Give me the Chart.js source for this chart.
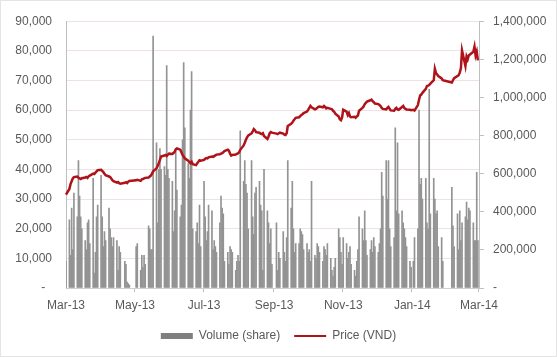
<!DOCTYPE html>
<html><head><meta charset="utf-8">
<script src="https://cdn.jsdelivr.net/npm/chart.js@4"></script>
<style>html,body{margin:0;padding:0;background:#fff}#wrap{width:557px;height:357px}</style>
</head><body><div id="wrap"><canvas id="c" width="557" height="357"></canvas></div>
<script>
// ---- data ----
const monthKeys = ['2013-03','2013-04','2013-05','2013-06','2013-07','2013-08','2013-09','2013-10','2013-11','2013-12','2014-01','2014-02'];
const holidays = ['2013-04-19','2013-04-29','2013-04-30','2013-05-01','2013-09-02','2014-01-01','2014-01-29','2014-01-30','2014-01-31','2014-02-03','2014-02-04'];
const tickMonths = ['Mar-13','May-13','Jul-13','Sep-13','Nov-13','Jan-14','Mar-14'];
const monthNames = ['Jan','Feb','Mar','Apr','May','Jun','Jul','Aug','Sep','Oct','Nov','Dec'];

// Volume (share), one value per trading day
const volMar13 = [9000,23000,11000,27000,13000,32000,24000,43000,31000,24000,20000,16000,13000,22000,23000,15000,37000,5000,12000,24000,28000];
const volApr13 = [38000,24000,14000,19000,16000,27000,20000,17000,14000,17000,16000,6000,14000,12000,9000,8000,2000,1500,1000];
const volMay13 = [14000,15000,6000,11000,7000,11000,8000,21000,20000,13000,13000,85000,49000,22000,40000,47000,40000,41000,38000,75000,40000,37000];
const volJun13 = [36000,19000,26000,47000,33000,24000,28000,50000,76000,54000,42000,37000,60000,73000,20000,19000,22000,15000,28000,14000];
const volJul13 = [36000,24000,16000,19000,28000,26000,13000,16000,14000,12000,22000,31000,27000,25000,9000,12000,8000,14000,13000,12000,6000,9000,11000];
const volAug13 = [9000,53000,36000,43000,35000,32000,20000,43000,24000,18000,32000,34000,36000,28000,26000,6000,40000,26000,22000,15000,20000,8000];
const volSep13 = [22000,6000,12000,10000,19000,12000,9000,17000,43000,27000,36000,20000,12000,15000,15000,20000,19000,18000,13000,15000];
const volOct13 = [12000,13000,9000,36000,11000,10000,15000,14000,12000,9000,14000,13000,11000,15000,10000,6000,4000,7000,10000,20000,17000,12000,8000];
const volNov13 = [17000,15000,10000,12000,14000,8000,6000,4000,9000,13000,24000,20000,16000,26000,16000,11000,13000,16000,12000,17000,14000];
const volDec13 = [12000,15000,20000,39000,31000,43000,30000,43000,20000,14000,17000,54000,26000,49000,25000,26000,22000,20000,17000,14000,9000,7000];
const volJan14 = [9000,17000,20000,60000,35000,37000,30000,37000,22000,20000,67000,25000,37000,30000,25000,26000,14000,17000,9000];
const volFeb14 = [34000,21000,14000,25000,13000,26000,16000,22000,24000,29000,23000,27000,26000,22000,16000,16000,39000,16000];

// Price (VND), one value per trading day
const priceMar13 = [490000,520000,545000,560000,575000,582000,585000,578000,575000,572000,576000,580000,583000,578000,586000,590000,600000,598000,605000,612000,618000];
const priceApr13 = [620000,614000,608000,600000,592000,585000,582000,574000,566000,560000,553000,556000,550000,547000,552000,555000,551000,558000,562000];
const priceMay13 = [565000,568000,562000,570000,572000,575000,578000,580000,585000,590000,600000,612000,628000,640000,655000,672000,690000,695000,698000,693000,700000,705000];
const priceJun13 = [703000,708000,715000,728000,732000,726000,712000,698000,690000,680000,668000,660000,655000,662000,650000,645000,655000,662000,670000,668000];
const priceJul13 = [672000,678000,682000,680000,686000,690000,688000,692000,696000,700000,702000,705000,708000,712000,718000,726000,720000,705000,695000,698000,700000,704000,706000];
const priceAug13 = [712000,725000,748000,762000,778000,790000,800000,812000,822000,834000,828000,818000,815000,810000,808000,812000,798000,782000,795000,812000,818000,815000];
const priceSep13 = [810000,808000,812000,815000,810000,805000,803000,812000,850000,862000,868000,878000,885000,893000,896000,902000,908000,912000,918000,926000];
const priceOct13 = [935000,945000,955000,948000,937000,940000,945000,950000,952000,948000,955000,950000,942000,945000,940000,938000,930000,925000,915000,900000,885000,880000,895000];
const priceNov13 = [935000,925000,908000,918000,900000,896000,898000,893000,900000,905000,930000,945000,952000,965000,972000,978000,985000,988000,980000,975000,968000];
const priceDec13 = [965000,960000,955000,945000,940000,937000,945000,950000,940000,932000,930000,940000,945000,937000,935000,950000,955000,945000,940000,937000,935000,933000];
const priceJan14 = [935000,931000,960000,988000,1010000,1015000,1024000,1045000,1060000,1062000,1065000,1072000,1090000,1150000,1128000,1120000,1112000,1100000,1090000];
const priceFeb14 = [1078000,1090000,1101000,1112000,1117000,1130000,1153000,1246000,1165000,1215000,1200000,1220000,1225000,1240000,1266000,1220000,1240000,1194000];

const volumeByMonth = [volMar13,volApr13,volMay13,volJun13,volJul13,volAug13,volSep13,volOct13,volNov13,volDec13,volJan14,volFeb14];
const priceByMonth = [priceMar13,priceApr13,priceMay13,priceJun13,priceJul13,priceAug13,priceSep13,priceOct13,priceNov13,priceDec13,priceJan14,priceFeb14];

// ---- calendar axis (one category per calendar day) ----
const labels = [];
for (let t = Date.UTC(2013,2,1); t <= Date.UTC(2014,2,1); t += 86400000) labels.push(new Date(t).toISOString().slice(0,10));
const volumeData = labels.map(() => null);
const priceData = labels.map(() => null);
monthKeys.forEach((mk, m) => {
  let k = 0;
  labels.forEach((d, i) => {
    if (d.slice(0,7) !== mk) return;
    const wd = new Date(d + 'T00:00:00Z').getUTCDay();
    if (wd === 0 || wd === 6 || holidays.includes(d)) return;
    if (k < volumeByMonth[m].length) { volumeData[i] = volumeByMonth[m][k]; priceData[i] = priceByMonth[m][k]; }
    k++;
  });
});
function tickText(d) {
  const p = d.split('-');
  if (p[2] !== '01') return '';
  const s = monthNames[+p[1]-1] + '-' + p[0].slice(2);
  return tickMonths.includes(s) ? s : '';
}

const GREY = '#595959';
const BAR = '#939393';
const RED = '#b0121a';
const fmt = v => v.toLocaleString('en-US');
Chart.defaults.font.family = "'Liberation Sans', Arial, sans-serif";
Chart.defaults.font.size = 12;
Chart.defaults.color = GREY;

const frame = {
  id: 'frame',
  beforeDraw(chart) {
    const c = chart.ctx;
    c.save(); c.fillStyle = '#fff'; c.fillRect(0, 0, chart.width, chart.height);
    c.strokeStyle = '#e4e4e4'; c.lineWidth = 1; c.strokeRect(0.5, 0.5, chart.width - 1, chart.height - 1);
    c.restore();
  }
};

new Chart(document.getElementById('c'), {
  type: 'bar',
  data: {
    labels: labels,
    datasets: [
      { type: 'bar', label: 'Volume (share)', data: volumeData, yAxisID: 'y', backgroundColor: BAR, barThickness: 1, order: 2 },
      { type: 'line', label: 'Price (VND)', data: priceData, yAxisID: 'y1', borderColor: RED, borderWidth: 2.5, pointRadius: 0, spanGaps: true, tension: 0, order: 1 }
    ]
  },
  options: {
    responsive: false, animation: false,
    layout: { padding: { top: 15, bottom: 5, left: 0, right: 0 } },
    plugins: {
      tooltip: { enabled: false },
      legend: {
        position: 'bottom',
        labels: {
          usePointStyle: true, pointStyleWidth: 32, boxHeight: 6, padding: 14, color: GREY,
          font: { size: 12 },
          generateLabels: () => [
            { text: 'Volume (share)', fillStyle: '#7f7f7f', strokeStyle: '#7f7f7f', lineWidth: 0, pointStyle: 'rect', datasetIndex: 0, fontColor: GREY },
            { text: 'Price (VND)', fillStyle: RED, strokeStyle: RED, lineWidth: 2, pointStyle: 'line', datasetIndex: 1, fontColor: GREY }
          ]
        }
      }
    },
    scales: {
      x: {
        type: 'category', offset: false,
        grid: { display: true, drawOnChartArea: false, tickLength: 4,
                color: ctx => (ctx.index !== undefined && tickText(labels[ctx.index] || '') !== '') ? '#bfbfbf' : 'rgba(0,0,0,0)' },
        border: { display: true, color: '#d0d0d0' },
        ticks: { autoSkip: false, maxRotation: 0, minRotation: 0, padding: 6, color: GREY,
                 callback: (v) => tickText(labels[v]) },
        afterFit: s => { s.height = 28; }
      },
      y: {
        position: 'left', min: 0, max: 90000,
        grid: { color: '#eee2e2', drawTicks: false },
        border: { display: true, color: '#bfbfbf' },
        ticks: { stepSize: 10000, padding: 14, color: GREY, callback: v => v === 0 ? '-  ' : fmt(v) },
        afterFit: s => { s.width = 66; }
      },
      y1: {
        position: 'right', min: 0, max: 1400000,
        grid: { drawOnChartArea: false, tickLength: 5, color: '#bfbfbf' },
        border: { display: true, color: '#bfbfbf' },
        ticks: { stepSize: 200000, padding: 9, color: GREY, callback: v => v === 0 ? '-' : fmt(v) },
        afterFit: s => { s.width = 78; }
      }
    }
  },
  plugins: [frame]
});
</script></body></html>
